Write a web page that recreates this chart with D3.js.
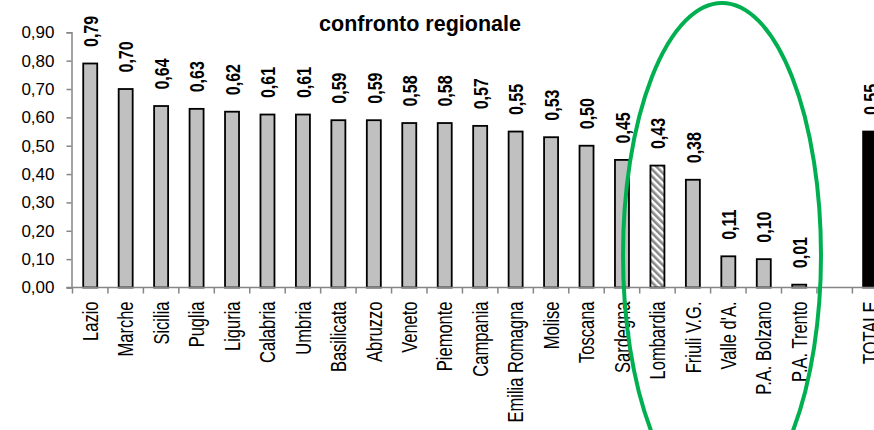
<!DOCTYPE html>
<html>
<head>
<meta charset="utf-8">
<script src="https://cdn.jsdelivr.net/npm/d3@7"></script>
<style>
  html, body { margin: 0; padding: 0; background: #fff; }
  svg { display: block; font-family: "Liberation Sans", Arial, sans-serif; }
</style>
</head>
<body>
<svg id="chart" width="874" height="430"></svg>
<script>
const title = "confronto regionale";
const categories = ["Lazio", "Marche", "Sicilia", "Puglia", "Liguria", "Calabria", "Umbria",
  "Basilicata", "Abruzzo", "Veneto", "Piemonte", "Campania", "Emilia Romagna", "Molise",
  "Toscana", "Sardegna", "Lombardia", "Friuli V.G.", "Valle d'A.", "P.A. Bolzano",
  "P.A. Trento", "", "TOTALE"];
const values = [0.79, 0.70, 0.64, 0.63, 0.62, 0.61, 0.61, 0.59, 0.59, 0.58, 0.58, 0.57,
  0.55, 0.53, 0.50, 0.45, 0.43, 0.38, 0.11, 0.10, 0.01, null, 0.55];
const barKinds = ["region", "region", "region", "region", "region", "region", "region",
  "region", "region", "region", "region", "region", "region", "region", "region", "region",
  "highlight", "region", "region", "region", "region", "none", "total"];
const yTicks = [0, 0.1, 0.2, 0.3, 0.4, 0.5, 0.6, 0.7, 0.8, 0.9];

const svg = d3.select("#chart");
const fmt = v => d3.format(".2f")(v).replace(".", ",");

// hatch pattern for highlighted bar
const defs = svg.append("defs");
const pat = defs.append("pattern")
  .attr("id", "hatch").attr("patternUnits", "userSpaceOnUse")
  .attr("width", 5).attr("height", 5)
  .attr("patternTransform", "rotate(-45)");
pat.append("rect").attr("width", 5).attr("height", 5).attr("fill", "#ffffff");
pat.append("rect").attr("width", 2.6).attr("height", 5).attr("fill", "#8a8a8a");

const x = d3.scaleBand().domain(d3.range(categories.length))
  .range([72.5, 72.5 + 35.45 * categories.length]).paddingInner(0).paddingOuter(0);
const y = d3.scaleLinear().domain([0, 0.9]).range([287.5, 32.3]);

const barW = 14;
const fills = { region: "#c0c0c0", highlight: "url(#hatch)", total: "#000000" };

// bars
svg.append("g").selectAll("rect")
  .data(values.map((v, i) => ({ v, i, k: barKinds[i] })).filter(d => d.v !== null))
  .join("rect")
  .attr("x", d => x(d.i) + x.bandwidth() / 2 - barW / 2)
  .attr("y", d => y(d.v))
  .attr("width", barW)
  .attr("height", d => y(0) - y(d.v))
  .attr("fill", d => fills[d.k])
  .attr("stroke", "#000").attr("stroke-width", 1.8);

// y axis
const yAxis = svg.append("g").attr("transform", "translate(71.5,0)")
  .call(d3.axisLeft(y).tickValues(yTicks).tickFormat(fmt).tickSize(5).tickPadding(12));
yAxis.select(".domain").attr("stroke", "#868686").attr("stroke-width", 1.5);
yAxis.selectAll(".tick line").attr("stroke", "#868686").attr("stroke-width", 1.5);
yAxis.selectAll(".tick text").attr("font-size", 17).attr("fill", "#000")
  .attr("font-family", "Liberation Sans, Arial, sans-serif");

// x axis baseline and ticks
const xg = svg.append("g");
xg.append("line").attr("x1", 66.5).attr("x2", 874).attr("y1", y(0)).attr("y2", y(0))
  .attr("stroke", "#868686").attr("stroke-width", 1.5);
xg.selectAll("line.tk").data(d3.range(categories.length + 1)).join("line")
  .attr("class", "tk")
  .attr("x1", i => x.range()[0] + i * x.step()).attr("x2", i => x.range()[0] + i * x.step())
  .attr("y1", y(0)).attr("y2", y(0) + 6)
  .attr("stroke", "#868686").attr("stroke-width", 1.5);

// category labels
svg.append("g").selectAll("g")
  .data(categories.map((c, i) => ({ c, i })).filter(d => d.c !== ""))
  .join("g")
  .attr("transform", d => `translate(${x(d.i) + x.bandwidth() / 2},301.5) scale(1.3,1) rotate(-90)`)
  .append("text")
  .attr("text-anchor", "end").attr("dy", "0.36em")
  .attr("font-size", 16.5).attr("fill", "#000")
  .text(d => d.c);

// value labels
svg.append("g").selectAll("g")
  .data(values.map((v, i) => ({ v, i })).filter(d => d.v !== null))
  .join("g")
  .attr("transform", d => `translate(${x(d.i) + x.bandwidth() / 2 + 0.5},${y(d.v) - 16.5}) scale(1.25,1) rotate(-90)`)
  .append("text")
  .attr("text-anchor", "start").attr("dy", "0.36em")
  .attr("font-size", 16).attr("font-weight", "bold").attr("fill", "#000")
  .text(d => fmt(d.v));

// title
svg.append("text").attr("x", 420).attr("y", 31)
  .attr("text-anchor", "middle").attr("font-size", 21.5).attr("font-weight", "bold")
  .attr("fill", "#000").text(title);

// green annotation ellipse
svg.append("ellipse").attr("cx", 722).attr("cy", 255).attr("rx", 99).attr("ry", 252)
  .attr("fill", "none").attr("stroke", "#00b050").attr("stroke-width", 4);
</script>
</body>
</html>
